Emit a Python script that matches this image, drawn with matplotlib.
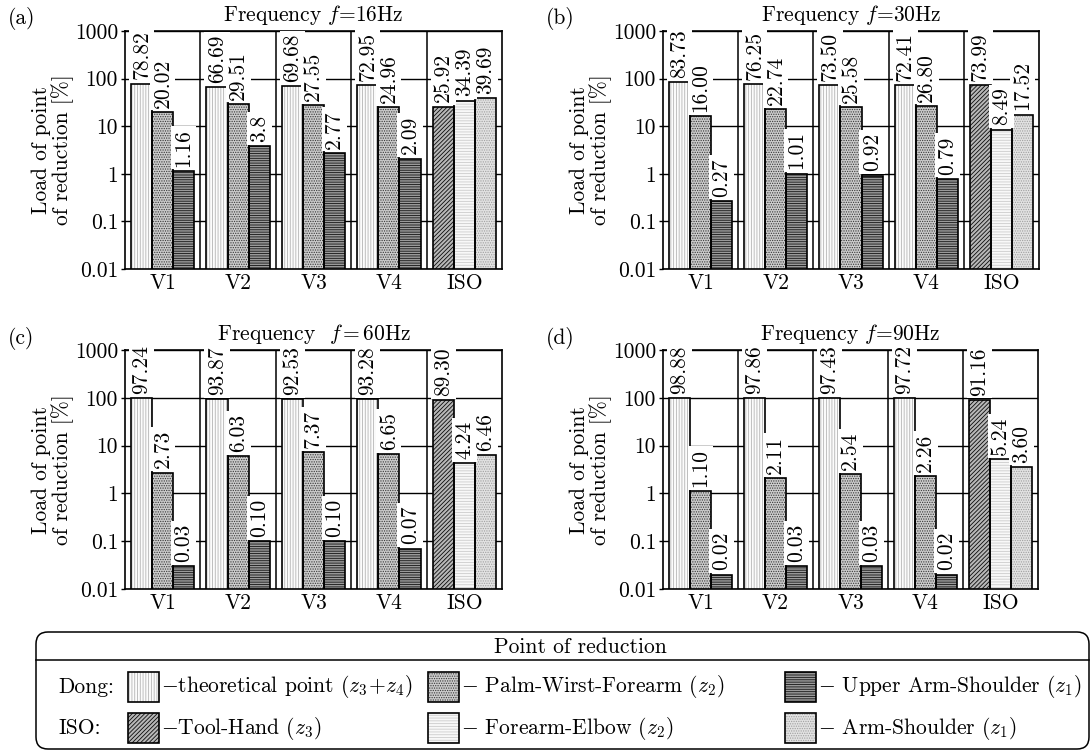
import matplotlib
matplotlib.use('Agg')
import matplotlib.pyplot as plt
from matplotlib.patches import FancyBboxPatch, Rectangle

plt.rcParams['font.family'] = ['cmr10', 'DejaVu Serif']
plt.rcParams['mathtext.fontset'] = 'cm'
plt.rcParams['axes.formatter.use_mathtext'] = True
plt.rcParams['axes.unicode_minus'] = False
plt.rcParams['hatch.linewidth'] = 0.6
FS = 15.5

# data (label strings as printed on the chart)
categories = ['V1', 'V2', 'V3', 'V4', 'ISO']
yticks = [0.01, 0.1, 1, 10, 100, 1000]
ytick_labels = ['0.01', '0.1', '1', '10', '100', '1000']

load_16hz = [['78.82', '20.02', '1.16'], ['66.69', '29.51', '3.8'], ['69.68', '27.55', '2.77'],
             ['72.95', '24.96', '2.09'], ['25.92', '34.39', '39.69']]
load_30hz = [['83.73', '16.00', '0.27'], ['76.25', '22.74', '1.01'], ['73.50', '25.58', '0.92'],
             ['72.41', '26.80', '0.79'], ['73.99', '8.49', '17.52']]
load_60hz = [['97.24', '2.73', '0.03'], ['93.87', '6.03', '0.10'], ['92.53', '7.37', '0.10'],
             ['93.28', '6.65', '0.07'], ['89.30', '4.24', '6.46']]
load_90hz = [['98.88', '1.10', '0.02'], ['97.86', '2.11', '0.03'], ['97.43', '2.54', '0.03'],
             ['97.72', '2.26', '0.02'], ['91.16', '5.24', '3.60']]

panels = [load_16hz, load_30hz, load_60hz, load_90hz]
letters = ['(a)', '(b)', '(c)', '(d)']
titles = ['Frequency $f$=16Hz', 'Frequency $f$=30Hz',
          'Frequency  $f\\,$=$\\,$60Hz', 'Frequency $f$=90Hz']

dong_names = ['$-$theoretical point ($z_3\\!+\\!z_4$)', '$-$ Palm-Wirst-Forearm ($z_2$)',
              '$-$ Upper Arm-Shoulder ($z_1$)']
iso_names = ['$-$Tool-Hand ($z_3$)', '$-$ Forearm-Elbow ($z_2$)', '$-$ Arm-Shoulder ($z_1$)']

# fill styles: face colour, hatch, hatch colour
dong_styles = [('#fcfcfc', '||||||', '#b4b4b4'),
               ('#cccccc', '.......', '#383838'),
               ('#9a9a9a', '-------', '#141414')]
iso_styles = [('#b8b8b8', '////////', '#0c0c0c'),
              ('#f8f8f8', '------', '#cccccc'),
              ('#e2e2e2', '.......', '#a0a0a0')]

W, H = 1091, 751
fig = plt.figure(figsize=(W / 100, H / 100), dpi=100)

# axes boxes in pixels: left, top, right, bottom
boxes = [(125, 31, 502, 269), (663, 31, 1039, 269), (125, 350, 502, 589), (663, 350, 1038, 589)]
width = 0.28
offsets = [-width, 0, width]

for data, box, letter, title in zip(panels, boxes, letters, titles):
    l, t, r, b = box
    ax = fig.add_axes([l / W, 1 - b / H, (r - l) / W, (b - t) / H])
    ax.set_yscale('log')
    for i, group in enumerate(data):
        styles = iso_styles if categories[i] == 'ISO' else dong_styles
        for j, (txt, (face, hatch, hc)) in enumerate(zip(group, styles)):
            x = i + offsets[j]
            v = float(txt)
            ax.bar(x, v, width, color=face, edgecolor=hc, hatch=hatch, linewidth=0, zorder=2)
            ax.bar(x, v, width, fill=False, edgecolor='black', linewidth=1.2, zorder=3)
            ax.annotate(txt, (x, v), xytext=(0, 3), textcoords='offset points', rotation=90,
                        ha='center', va='bottom', fontsize=FS, zorder=4, clip_on=False,
                        bbox=dict(fc='white', ec='none', pad=2.0))
    for k in range(len(categories) - 1):
        ax.axvline(k + 0.5, color='black', linewidth=1.1, zorder=1)
    ax.set_xlim(-0.5, len(categories) - 0.5)
    ax.set_ylim(0.01, 1000)
    ax.set_yticks(yticks)
    ax.set_yticklabels(ytick_labels)
    ax.minorticks_off()
    ax.set_xticks(range(len(categories)))
    ax.set_xticklabels(categories)
    ax.tick_params(axis='x', length=0, pad=3, labelsize=FS)
    ax.tick_params(axis='y', length=3, width=1.0, pad=2, labelsize=FS)
    ax.yaxis.grid(True, color='black', linewidth=1.0)
    ax.set_axisbelow(True)
    for s in ax.spines.values():
        s.set_linewidth(1.2)
    fig.text((l - 72) / W, 1 - (t + b) / 2 / H, 'Load of point\nof reduction [%]', rotation=90,
             ha='center', va='center', multialignment='center', fontsize=FS, linespacing=1.0)
    fig.text((l + r) / 2 / W, 1 - (t - 16) / H, title, ha='center', va='center', fontsize=FS)
    fig.text((l - 117) / W, 1 - (t - 12) / H, letter, ha='left', va='center', fontsize=FS)

# legend drawn in pixel coordinates
lg = fig.add_axes([0, 0, 1, 1])
lg.set_xlim(0, W)
lg.set_ylim(H, 0)
lg.axis('off')
lg.add_patch(FancyBboxPatch((36, 632), 1089 - 36, 749 - 632,
                            boxstyle='round,pad=0,rounding_size=12',
                            fc='none', ec='black', lw=1.1, clip_on=False))
lg.plot([36, 1089], [660, 660], color='black', lw=1.1)
lg.text(580, 647, 'Point of reduction', ha='center', va='center', fontsize=15.5)

col_x = [128, 428, 785]
for row_y, row_label, names, styles in [(687, 'Dong:', dong_names, dong_styles),
                                          (728, 'ISO:', iso_names, iso_styles)]:
    lg.text(58, row_y, row_label, ha='left', va='center', fontsize=15.5)
    for cx, name, (face, hatch, hc) in zip(col_x, names, styles):
        lg.add_patch(Rectangle((cx, row_y - 15), 31, 30, fc=face, ec=hc, hatch=hatch, lw=0))
        lg.add_patch(Rectangle((cx, row_y - 15), 31, 30, fill=False, ec='black', lw=1.2))
        lg.text(cx + 33, row_y, name, ha='left', va='center', fontsize=15.5)

fig.savefig('out.png', dpi=100)
